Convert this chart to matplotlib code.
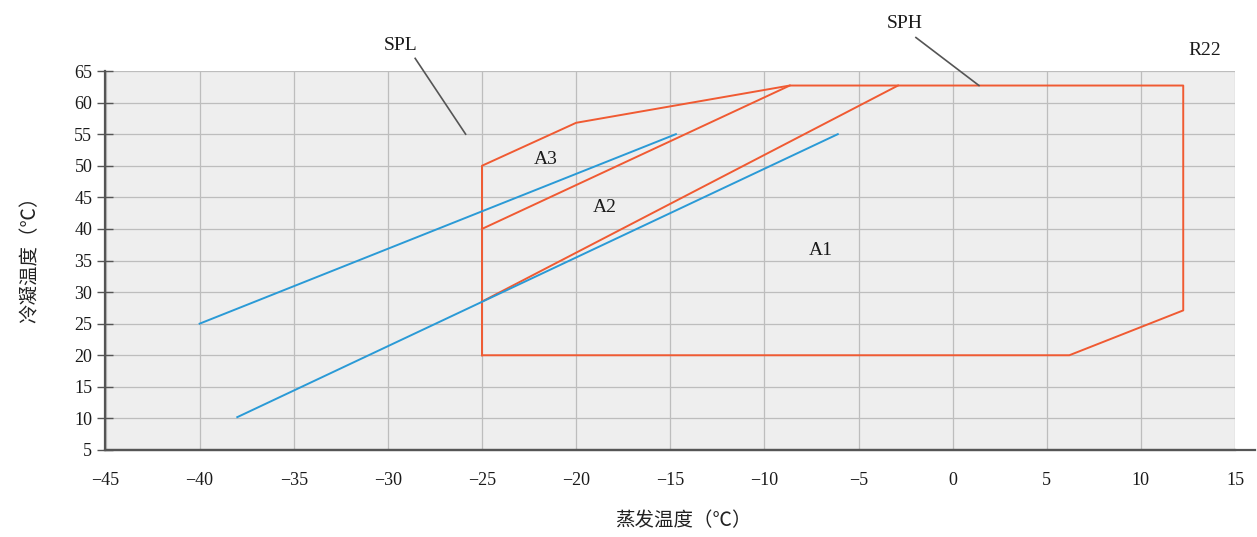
import matplotlib
matplotlib.use("Agg")
import matplotlib.pyplot as plt

# ---- data ----
envelope_x = [-25, -25, -20, -8.65, 12.25, 12.25, 6.2, -25]
envelope_y = [20, 50, 56.8, 62.7, 62.7, 27.1, 20, 20]
a2_x = [-25, -8.65]
a2_y = [40, 62.7]
a1_x = [-25, -2.9]
a1_y = [28.5, 62.7]
spl_x = [-40, -14.7]
spl_y = [25, 55]
sph_x = [-38, -6.1]
sph_y = [10.2, 55]
xticks = [-45, -40, -35, -30, -25, -20, -15, -10, -5, 0, 5, 10, 15]
yticks = [5, 10, 15, 20, 25, 30, 35, 40, 45, 50, 55, 60, 65]
region_labels = ["A3", "A2", "A1"]
region_x = [-21.6, -18.5, -7.0]
region_y = [51.0, 43.4, 36.6]

RED = "#f05a32"
BLUE = "#2a9ad6"
LATIN = ["Liberation Serif", "DejaVu Serif"]
CJK = ["Noto Sans CJK SC", "DejaVu Sans"]

fig = plt.figure(figsize=(12.57, 5.37), dpi=100)
ax = fig.add_axes([105.5 / 1257, 87 / 537, (1235 - 105.5) / 1257, (450 - 71) / 537])
ax.set_facecolor("#eeeeee")
ax.set_xlim(-45, 15)
ax.set_ylim(5, 65)
ax.set_xticks(xticks)
ax.set_yticks(yticks)
ax.grid(True, color="#bdbdbd", linewidth=0.9)
ax.set_axisbelow(True)

for s in ["top", "right"]:
    ax.spines[s].set_visible(False)
ax.spines["left"].set_color("#555555")
ax.spines["left"].set_linewidth(1.6)
ax.spines["bottom"].set_color("#555555")
ax.spines["bottom"].set_linewidth(1.6)
# extend bottom axis line beyond plot area
ax.plot([0, 1.018], [0, 0], transform=ax.transAxes, color="#555555",
        linewidth=1.6, clip_on=False, zorder=5)

ax.tick_params(axis="y", direction="inout", length=11, width=1.0, color="#555555",
               pad=4, labelsize=13, labelcolor="#1a1a1a")
ax.tick_params(axis="x", length=0, pad=16, labelsize=13, labelcolor="#1a1a1a")
ax.set_xticklabels(["\u2212" + str(abs(v)) if v < 0 else str(v) for v in xticks])
for lab in ax.get_xticklabels() + ax.get_yticklabels():
    lab.set_family(LATIN)

# lines
ax.plot(envelope_x, envelope_y, color=RED, linewidth=1.4)
ax.plot(a2_x, a2_y, color=RED, linewidth=1.4)
ax.plot(a1_x, a1_y, color=RED, linewidth=1.4)
ax.plot(spl_x, spl_y, color=BLUE, linewidth=1.4)
ax.plot(sph_x, sph_y, color=BLUE, linewidth=1.4)

for t, x, y in zip(region_labels, region_x, region_y):
    ax.text(x, y, t, ha="center", va="center", fontsize=14, family=LATIN, color="#1a1a1a")

# annotations above the plot
ax.text(-29.3, 69.1, "SPL", ha="center", va="center", fontsize=14, family=LATIN,
        color="#1a1a1a", clip_on=False)
ax.plot([-28.55, -25.87], [67.0, 55.0], color="#555555", linewidth=1.2, clip_on=False)
ax.text(-2.55, 72.5, "SPH", ha="center", va="center", fontsize=14, family=LATIN,
        color="#1a1a1a", clip_on=False)
ax.plot([-1.95, 1.4], [70.3, 62.7], color="#555555", linewidth=1.2, clip_on=False)
ax.text(13.4, 68.3, "R22", ha="center", va="center", fontsize=14, family=LATIN,
        color="#1a1a1a", clip_on=False)

# axis labels
fig.text(683 / 1257, 1 - 521 / 537, "蒸发温度（℃）", ha="center", va="center",
         fontsize=14, family=CJK, color="#222222")
fig.text(30 / 1257, 1 - 255 / 537, "冷凝温度（℃）", ha="center", va="center",
         rotation=90, fontsize=14, family=CJK, color="#222222")

fig.savefig("out.png", dpi=100)
